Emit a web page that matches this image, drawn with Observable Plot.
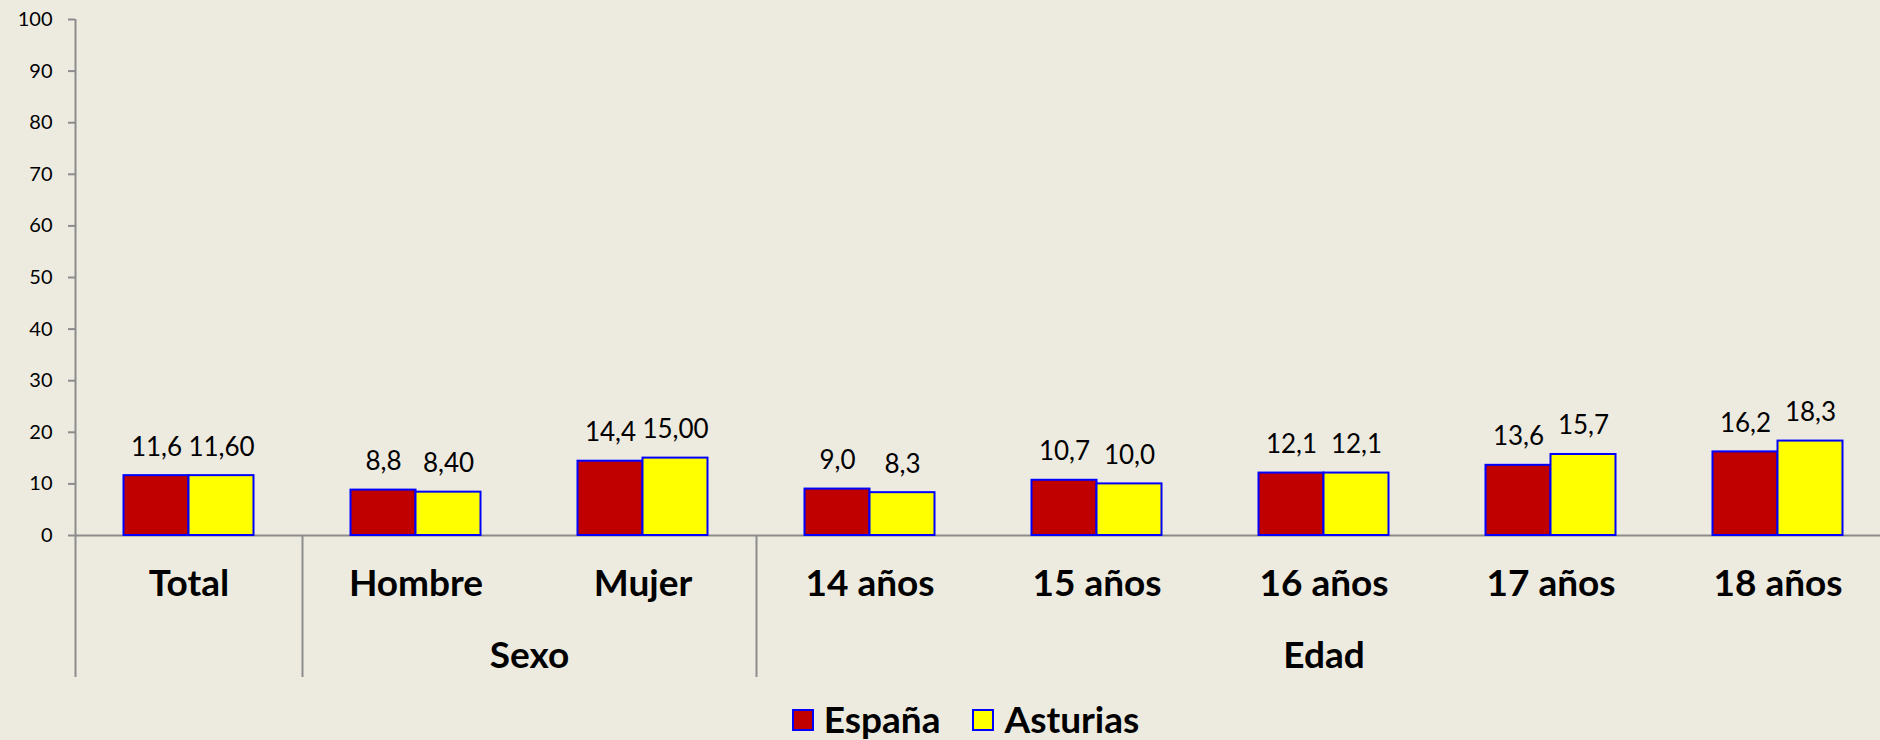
<!DOCTYPE html>
<html><head><meta charset="utf-8">
<script src="https://cdn.jsdelivr.net/npm/d3@7"></script>
<script src="https://cdn.jsdelivr.net/npm/@observablehq/plot@0.6"></script>
<style>
html,body{margin:0;padding:0;background:#EDEBE0;overflow:hidden;}
#chart svg{display:block;}
#legend{height:40px;display:flex;justify-content:center;align-items:center;font-family:Lato,sans-serif;font-weight:bold;font-size:37px;line-height:40px;padding-left:51px;color:#000;}
#legend .item{display:flex;align-items:center;margin:0 16px;}
#legend .sw{width:22px;height:22px;box-sizing:border-box;border:2px solid #0000FF;margin-right:10px;margin-top:2px;}
</style></head>
<body><div id="chart"></div><div id="legend"></div>
<script>
const categories = ["Total","Hombre","Mujer","14 años","15 años","16 años","17 años","18 años"];
const series = ["España","Asturias"];
const espana = [11.6, 8.8, 14.4, 9.0, 10.7, 12.1, 13.6, 16.2];
const asturias = [11.6, 8.4, 15.0, 8.3, 10.0, 12.1, 15.7, 18.3];
const espanaLabels = ["11,6","8,8","14,4","9,0","10,7","12,1","13,6","16,2"];
const asturiasLabels = ["11,60","8,40","15,00","8,3","10,0","12,1","15,7","18,3"];
const groupNames = ["Sexo","Edad"];
const groupFirst = ["Hombre","14 años"];
const groupLast = ["Mujer","18 años"];
const yTicks = [0,10,20,30,40,50,60,70,80,90,100];
const colors = ["#C00000","#FFFF00"];

const W = 1880, H = 699, ML = 75, MR = -11, MT = 19, MB = 164;
const bw = (W - ML - MR) / categories.length;
const barW = 65;
const below = 142;
const axisColor = "#8c8c8c";
const font = "Lato, sans-serif";
const catSize = 37;

const values = [espana, asturias];
const labels = [espanaLabels, asturiasLabels];
const tables = series.map((s, k) => categories.map((c, i) => ({category: c, series: s, value: values[k][i], label: labels[k][i]})));

const marks = [
  Plot.ruleY([0], {stroke: axisColor, strokeWidth: 2}),
  Plot.ruleX([categories[0]], {x: d => d, dx: -bw / 2, stroke: axisColor, strokeWidth: 2, insetBottom: -below}),
  Plot.ruleX(groupFirst, {x: d => d, dx: -bw / 2, stroke: axisColor, strokeWidth: 2, insetTop: H - MT - MB, insetBottom: -below})
];
tables.forEach((t, k) => {
  marks.push(Plot.barY(t, {
    x: "category", y: "value", fill: colors[k], stroke: "#0000FF", strokeWidth: 2,
    insetLeft: k === 0 ? bw / 2 - barW : bw / 2,
    insetRight: k === 0 ? bw / 2 : bw / 2 - barW
  }));
  marks.push(Plot.text(t, {
    x: "category", y: "value", text: "label", dx: (k === 0 ? -1 : 1) * barW / 2, dy: -20,
    lineAnchor: "bottom", fontSize: 26, fontFamily: font, fill: "#000"
  }));
});
groupNames.forEach((g, j) => {
  const i0 = categories.indexOf(groupFirst[j]), i1 = categories.indexOf(groupLast[j]);
  const mid = (i0 + i1) / 2, base = Math.floor(mid);
  marks.push(Plot.text([g], {
    x: () => categories[base], text: d => d, dx: (mid - base) * bw,
    frameAnchor: "bottom", dy: 132, lineAnchor: "bottom",
    fontSize: catSize, fontWeight: "bold", fontFamily: font, fill: "#000"
  }));
});
marks.push(Plot.axisY({ticks: yTicks, tickSize: 7, tickPadding: 16, fontSize: 20, stroke: axisColor, strokeWidth: 2, fill: "#000", label: null, fontFamily: font}));
marks.push(Plot.axisX({tickSize: 0, tickPadding: 60 - 0.71 * catSize, fontSize: catSize, fontWeight: "bold", fill: "#000", label: null, fontFamily: font}));

const chart = Plot.plot({
  width: W, height: H,
  marginLeft: ML, marginRight: MR, marginTop: MT, marginBottom: MB,
  style: {background: "transparent", fontFamily: font, color: "#000", overflow: "visible"},
  x: {domain: categories, padding: 0},
  y: {domain: [0, 100], label: null},
  marks
});
document.getElementById("chart").appendChild(chart);

const legend = document.getElementById("legend");
series.forEach((s, k) => {
  const item = document.createElement("div");
  item.className = "item";
  const sw = document.createElement("div");
  sw.className = "sw";
  sw.style.background = colors[k];
  const tx = document.createElement("span");
  tx.textContent = s;
  item.appendChild(sw); item.appendChild(tx);
  legend.appendChild(item);
});
</script>
</body></html>
